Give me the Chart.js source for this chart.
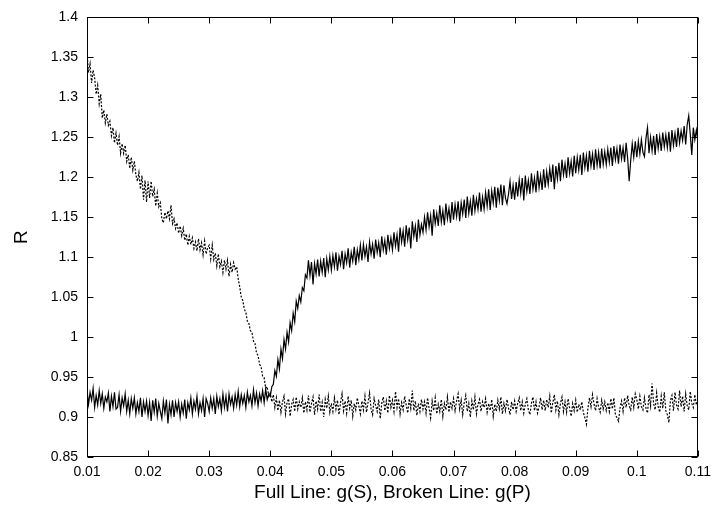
<!DOCTYPE html>
<html><head><meta charset="utf-8">
<script src="https://cdn.jsdelivr.net/npm/chart.js@4.4.1/dist/chart.umd.min.js"></script>
<style>html,body{margin:0;padding:0;background:#fff;}canvas{display:block;}</style>
</head><body>
<canvas id="c" width="718" height="510"></canvas>
<script>
// x positions in thousandths (g = xMilli / 1000)
const xMilli = [
10,10.25,10.5,10.75,11,11.25,11.5,11.75,12,12.25,12.5,12.75,13,13.25,13.5,13.75,14,14.25,14.5,14.75,
15,15.25,15.5,15.75,16,16.25,16.5,16.75,17,17.25,17.5,17.75,18,18.25,18.5,18.75,19,19.25,19.5,19.75,
20,20.25,20.5,20.75,21,21.25,21.5,21.75,22,22.25,22.5,22.75,23,23.25,23.5,23.75,24,24.25,24.5,24.75,
25,25.25,25.5,25.75,26,26.25,26.5,26.75,27,27.25,27.5,27.75,28,28.25,28.5,28.75,29,29.25,29.5,29.75,
30,30.25,30.5,30.75,31,31.25,31.5,31.75,32,32.25,32.5,32.75,33,33.25,33.5,33.75,34,34.25,34.5,34.75,
35,35.25,35.5,35.75,36,36.25,36.5,36.75,37,37.25,37.5,37.75,38,38.25,38.5,38.75,39,39.25,39.5,39.75,
40,40.25,40.5,40.75,41,41.25,41.5,41.75,42,42.25,42.5,42.75,43,43.25,43.5,43.75,44,44.25,44.5,44.75,
45,45.25,45.5,45.75,46,46.25,46.5,46.75,47,47.25,47.5,47.75,48,48.25,48.5,48.75,49,49.25,49.5,49.75,
50,50.25,50.5,50.75,51,51.25,51.5,51.75,52,52.25,52.5,52.75,53,53.25,53.5,53.75,54,54.25,54.5,54.75,
55,55.25,55.5,55.75,56,56.25,56.5,56.75,57,57.25,57.5,57.75,58,58.25,58.5,58.75,59,59.25,59.5,59.75,
60,60.25,60.5,60.75,61,61.25,61.5,61.75,62,62.25,62.5,62.75,63,63.25,63.5,63.75,64,64.25,64.5,64.75,
65,65.25,65.5,65.75,66,66.25,66.5,66.75,67,67.25,67.5,67.75,68,68.25,68.5,68.75,69,69.25,69.5,69.75,
70,70.25,70.5,70.75,71,71.25,71.5,71.75,72,72.25,72.5,72.75,73,73.25,73.5,73.75,74,74.25,74.5,74.75,
75,75.25,75.5,75.75,76,76.25,76.5,76.75,77,77.25,77.5,77.75,78,78.25,78.5,78.75,79,79.25,79.5,79.75,
80,80.25,80.5,80.75,81,81.25,81.5,81.75,82,82.25,82.5,82.75,83,83.25,83.5,83.75,84,84.25,84.5,84.75,
85,85.25,85.5,85.75,86,86.25,86.5,86.75,87,87.25,87.5,87.75,88,88.25,88.5,88.75,89,89.25,89.5,89.75,
90,90.25,90.5,90.75,91,91.25,91.5,91.75,92,92.25,92.5,92.75,93,93.25,93.5,93.75,94,94.25,94.5,94.75,
95,95.25,95.5,95.75,96,96.25,96.5,96.75,97,97.25,97.5,97.75,98,98.25,98.5,98.75,99,99.25,99.5,99.75,
100,100.25,100.5,100.75,101,101.25,101.5,101.75,102,102.25,102.5,102.75,103,103.25,103.5,103.75,104,104.25,104.5,104.75,
105,105.25,105.5,105.75,106,106.25,106.5,106.75,107,107.25,107.5,107.75,108,108.25,108.5,108.75,109,109.25,109.5,109.75,
110];

// Full line: g(S)
const gS = [
0.934,0.916,0.931,0.921,0.936,0.912,0.927,0.915,0.933,0.917,0.929,0.911,0.925,0.919,0.930,0.907,0.926,0.913,0.931,0.910,
0.912,0.928,0.907,0.924,0.914,0.929,0.907,0.921,0.904,0.923,0.911,0.924,0.904,0.918,0.907,0.924,0.900,0.919,0.907,0.920,
0.902,0.918,0.895,0.921,0.906,0.923,0.901,0.917,0.907,0.898,0.920,0.905,0.922,0.892,0.916,0.903,0.921,0.900,0.918,0.907,
0.919,0.900,0.916,0.905,0.922,0.898,0.918,0.909,0.924,0.904,0.920,0.910,0.926,0.904,0.918,0.908,0.923,0.900,0.923,0.917,
0.907,0.924,0.911,0.923,0.904,0.926,0.913,0.923,0.908,0.929,0.912,0.926,0.907,0.929,0.916,0.925,0.911,0.928,0.915,0.932,
0.913,0.928,0.917,0.927,0.912,0.931,0.919,0.927,0.914,0.934,0.918,0.930,0.914,0.929,0.920,0.933,0.918,0.935,0.922,0.929,
0.926,0.938,0.941,0.958,0.951,0.972,0.960,0.985,0.973,0.997,0.985,1.006,0.994,1.018,1.008,1.030,1.019,1.045,1.036,1.052,
1.044,1.062,1.058,1.078,1.074,1.096,1.077,1.094,1.066,1.092,1.079,1.097,1.076,1.095,1.081,1.099,1.075,1.098,1.084,1.101,
1.084,1.102,1.088,1.106,1.083,1.101,1.091,1.108,1.085,1.104,1.093,1.111,1.087,1.106,1.095,1.113,1.090,1.109,1.097,1.115,
1.096,1.116,1.101,1.113,1.094,1.119,1.104,1.116,1.098,1.122,1.106,1.118,1.100,1.126,1.109,1.121,1.103,1.128,1.111,1.124,
1.109,1.131,1.114,1.128,1.107,1.137,1.119,1.133,1.113,1.140,1.122,1.137,1.111,1.145,1.126,1.139,1.119,1.147,1.128,1.141,
1.131,1.150,1.134,1.156,1.138,1.152,1.127,1.160,1.142,1.155,1.139,1.165,1.144,1.158,1.140,1.167,1.148,1.161,1.143,1.169,
1.147,1.166,1.151,1.170,1.145,1.168,1.154,1.172,1.149,1.176,1.155,1.170,1.152,1.178,1.158,1.173,1.160,1.181,1.157,1.175,
1.160,1.181,1.164,1.185,1.159,1.183,1.168,1.188,1.162,1.187,1.171,1.191,1.165,1.190,1.174,1.167,1.179,1.195,1.173,1.190,
1.172,1.194,1.176,1.197,1.180,1.199,1.171,1.202,1.182,1.196,1.179,1.205,1.185,1.199,1.181,1.208,1.187,1.202,1.184,1.210,
1.187,1.207,1.191,1.211,1.194,1.216,1.185,1.214,1.198,1.218,1.195,1.222,1.203,1.217,1.199,1.225,1.205,1.220,1.201,1.227,
1.205,1.225,1.209,1.228,1.203,1.231,1.212,1.227,1.207,1.233,1.214,1.229,1.209,1.235,1.215,1.231,1.211,1.236,1.216,1.232,
1.216,1.235,1.219,1.237,1.214,1.239,1.222,1.236,1.217,1.241,1.223,1.237,1.219,1.243,1.224,1.195,1.221,1.242,1.225,1.245,
1.225,1.245,1.229,1.247,1.231,1.226,1.249,1.262,1.230,1.250,1.233,1.252,1.228,1.254,1.236,1.251,1.233,1.256,1.238,1.253,
1.237,1.257,1.232,1.259,1.240,1.255,1.238,1.262,1.243,1.258,1.246,1.264,1.241,1.266,1.277,1.254,1.228,1.262,1.247,1.259,
1.245];

// Broken line: g(P)
const gP = [
1.356,1.331,1.342,1.318,1.334,1.324,1.304,1.315,1.292,1.304,1.274,1.284,1.268,1.279,1.265,1.270,1.252,1.262,1.243,1.255,
1.240,1.251,1.230,1.242,1.230,1.240,1.220,1.228,1.211,1.225,1.209,1.220,1.203,1.195,1.206,1.185,1.202,1.172,1.196,1.169,
1.195,1.174,1.195,1.176,1.185,1.164,1.180,1.163,1.168,1.148,1.143,1.156,1.148,1.158,1.148,1.165,1.142,1.148,1.136,1.143,
1.130,1.139,1.127,1.136,1.121,1.129,1.115,1.126,1.116,1.124,1.111,1.119,1.108,1.123,1.109,1.118,1.103,1.120,1.104,1.112,
1.115,1.098,1.115,1.097,1.105,1.089,1.104,1.088,1.095,1.081,1.096,1.085,1.096,1.076,1.091,1.081,1.093,1.085,1.088,1.073,
1.063,1.050,1.046,1.035,1.031,1.020,1.017,1.008,1.006,0.995,0.992,0.980,0.977,0.966,0.963,0.951,0.949,0.936,0.938,0.926,
0.930,0.919,0.928,0.912,0.924,0.908,0.921,0.906,0.919,0.926,0.904,0.918,0.923,0.901,0.916,0.922,0.907,0.925,0.910,0.919,
0.912,0.924,0.905,0.919,0.909,0.927,0.906,0.917,0.925,0.903,0.920,0.910,0.928,0.907,0.918,0.900,0.922,0.911,0.926,0.906,
0.917,0.907,0.924,0.910,0.921,0.903,0.918,0.929,0.908,0.920,0.905,0.926,0.911,0.921,0.901,0.917,0.909,0.924,0.914,0.904,
0.920,0.909,0.926,0.906,0.918,0.930,0.910,0.903,0.923,0.914,0.907,0.922,0.898,0.917,0.925,0.908,0.920,0.905,0.927,0.912,
0.921,0.907,0.932,0.912,0.923,0.904,0.918,0.909,0.926,0.915,0.905,0.923,0.911,0.933,0.908,0.920,0.902,0.917,0.907,0.922,
0.910,0.919,0.905,0.924,0.911,0.899,0.920,0.908,0.924,0.904,0.916,0.907,0.922,0.901,0.917,0.909,0.925,0.906,0.919,0.911,
0.923,0.908,0.920,0.929,0.910,0.921,0.903,0.918,0.927,0.907,0.917,0.900,0.920,0.909,0.925,0.904,0.916,0.922,0.907,0.919,
0.912,0.923,0.906,0.917,0.908,0.922,0.901,0.916,0.907,0.921,0.910,0.925,0.904,0.917,0.908,0.922,0.911,0.903,0.919,0.909,
0.920,0.907,0.917,0.924,0.908,0.919,0.905,0.916,0.923,0.909,0.903,0.917,0.925,0.908,0.919,0.905,0.913,0.924,0.909,0.921,
0.908,0.922,0.912,0.926,0.905,0.918,0.928,0.909,0.920,0.903,0.917,0.925,0.907,0.919,0.906,0.923,0.911,0.901,0.917,0.908,
0.921,0.906,0.916,0.909,0.919,0.906,0.899,0.891,0.911,0.924,0.913,0.928,0.916,0.908,0.923,0.912,0.906,0.921,0.910,0.919,
0.908,0.918,0.907,0.923,0.910,0.924,0.903,0.899,0.895,0.911,0.920,0.907,0.924,0.912,0.927,0.914,0.909,0.925,0.912,0.929,
0.922,0.910,0.926,0.913,0.909,0.924,0.911,0.905,0.928,0.914,0.942,0.917,0.909,0.930,0.913,0.906,0.926,0.911,0.931,0.908,
0.903,0.893,0.921,0.927,0.908,0.931,0.915,0.910,0.933,0.913,0.926,0.907,0.929,0.914,0.909,0.932,0.917,0.912,0.928,0.915,
0.921];

const xTicks = [0.01,0.02,0.03,0.04,0.05,0.06,0.07,0.08,0.09,0.1,0.11];
const xTickLabels = ['0.01','0.02','0.03','0.04','0.05','0.06','0.07','0.08','0.09','0.1','0.11'];
const yTicks = [0.85,0.9,0.95,1,1.05,1.1,1.15,1.2,1.25,1.3,1.35,1.4];
const yTickLabels = ['0.85','0.9','0.95','1','1.05','1.1','1.15','1.2','1.25','1.3','1.35','1.4'];
const xTitle = 'Full Line: g(S), Broken Line: g(P)';
const yTitle = 'R';

const FONT = '"Liberation Sans", Arial, Helvetica, sans-serif';
const toPoints = ys => ys.map((y, i) => ({x: xMilli[i] / 1000, y}));

const framePlugin = {
  id: 'frame',
  afterDatasetsDraw(chart) {
    const {ctx, chartArea: a, scales: {x, y}} = chart;
    const L = 6;
    const l = Math.round(a.left) + 0.5, r = Math.round(a.right) - 0.5;
    const t = Math.round(a.top) + 0.5, b = Math.round(a.bottom) - 0.5;
    ctx.save();
    ctx.strokeStyle = '#000';
    ctx.lineWidth = 1;
    ctx.beginPath();
    xTicks.forEach(v => {
      const px = Math.round(x.getPixelForValue(v)) + 0.5;
      ctx.moveTo(px, b); ctx.lineTo(px, b - L);
      ctx.moveTo(px, t); ctx.lineTo(px, t + L);
    });
    yTicks.forEach(v => {
      const py = Math.round(y.getPixelForValue(v)) + 0.5;
      ctx.moveTo(l, py); ctx.lineTo(l + L, py);
      ctx.moveTo(r, py); ctx.lineTo(r - L, py);
    });
    ctx.stroke();
    ctx.strokeRect(l, t, r - l, b - t);
    ctx.restore();
  }
};

new Chart(document.getElementById('c'), {
  type: 'line',
  data: {
    datasets: [
      {label: 'g(S)', data: toPoints(gS), borderColor: '#000', borderWidth: 1.2,
       pointRadius: 0, tension: 0, fill: false},
      {label: 'g(P)', data: toPoints(gP), borderColor: '#000', borderWidth: 1.2,
       borderDash: [2, 1.6], pointRadius: 0, tension: 0, fill: false}
    ]
  },
  options: {
    responsive: false,
    animation: false,
    devicePixelRatio: 1,
    layout: {padding: {top: 13, right: 15, left: 0, bottom: 0}},
    plugins: {legend: {display: false}, tooltip: {enabled: false}},
    scales: {
      x: {
        type: 'linear', min: 0.01, max: 0.11,
        afterBuildTicks: s => { s.ticks = xTicks.map(v => ({value: v})); },
        afterFit: s => { s.height = 53; },
        grid: {display: false, drawTicks: false}, border: {display: false},
        ticks: {callback: (v, i) => xTickLabels[i], font: {family: FONT, size: 14},
                color: '#000', padding: 7, maxRotation: 0, autoSkip: false},
        title: {display: true, text: xTitle, color: '#000',
                font: {family: FONT, size: 19}, padding: {top: 0, bottom: 6}}
      },
      y: {
        type: 'linear', min: 0.85, max: 1.4,
        afterBuildTicks: s => { s.ticks = yTicks.map(v => ({value: v})); },
        afterFit: s => { s.width = 87; },
        grid: {display: false, drawTicks: false}, border: {display: false},
        ticks: {callback: (v, i) => yTickLabels[i], font: {family: FONT, size: 14},
                color: '#000', padding: 9, autoSkip: false},
        title: {display: true, text: yTitle, color: '#000',
                font: {family: FONT, size: 19}, padding: {top: 10, bottom: 0}}
      }
    }
  },
  plugins: [framePlugin]
});
</script>
</body></html>
